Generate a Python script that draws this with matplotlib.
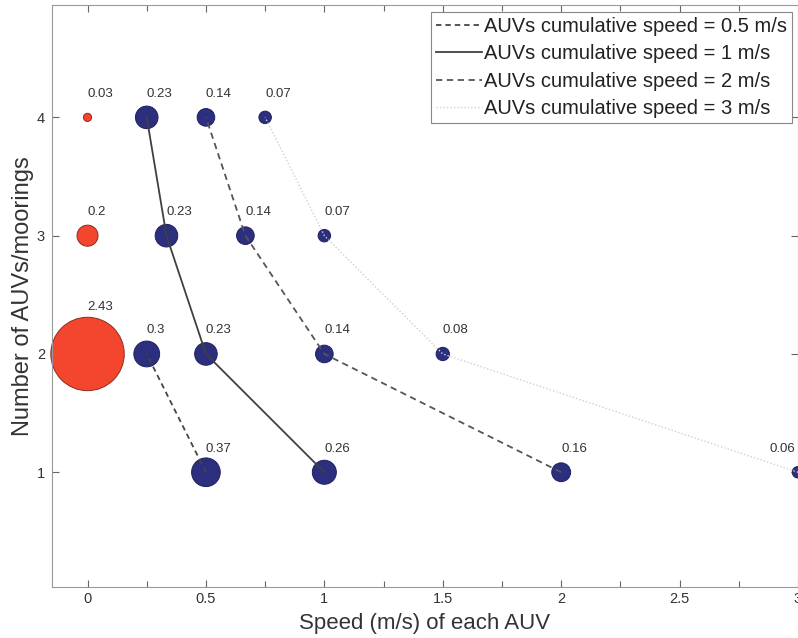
import numpy as np
import matplotlib.pyplot as plt

plt.rcParams['font.family'] = ['Liberation Sans', 'DejaVu Sans']

# single-AUV cost at each speed (red) and cost per AUV for the fleets (blue)
solo_speed = [0, 0, 0]
solo_count = [4, 3, 2]
solo_cost = [0.03, 0.2, 2.43]

fleet_speed = [0.25, 0.5, 0.75,
               1/3, 2/3, 1.0,
               0.25, 0.5, 1.0, 1.5,
               0.5, 1.0, 2.0, 3.0]
fleet_count = [4, 4, 4,
               3, 3, 3,
               2, 2, 2, 2,
               1, 1, 1, 1]
fleet_cost = [0.23, 0.14, 0.07,
              0.23, 0.14, 0.07,
              0.3, 0.23, 0.14, 0.08,
              0.37, 0.26, 0.16, 0.06]

# iso-lines of cumulative speed
cum_labels = ['AUVs cumulative speed = 0.5 m/s', 'AUVs cumulative speed = 1 m/s',
              'AUVs cumulative speed = 2 m/s', 'AUVs cumulative speed = 3 m/s']
cum_x = [[0.5, 0.25],
         [1.0, 0.5, 1/3, 0.25],
         [2.0, 1.0, 2/3, 0.5],
         [3.0, 1.5, 1.0, 0.75]]
cum_y = [[1, 2],
         [1, 2, 3, 4],
         [1, 2, 3, 4],
         [1, 2, 3, 4]]
cum_style = [dict(color='#454545', ls=(0, (3, 2.2)), lw=1.3),
             dict(color='#404040', ls='-', lw=1.3),
             dict(color='#555555', ls=(0, (3.5, 2.5)), lw=1.3),
             dict(color='#d0d0d0', ls=(0, (1, 1.5)), lw=1.0)]

W, H = 798, 638
fig = plt.figure(figsize=(W/100, H/100), dpi=100)
ax = fig.add_axes([52/W, 1 - 587/H, (798 - 52)/W, (587 - 5)/H])

k = 1150
ax.scatter(solo_speed, solo_count, s=np.array(solo_cost)*k, c='#f4452e',
           edgecolors='#8c2d1c', linewidths=0.7, zorder=2, clip_on=False)
ax.scatter(fleet_speed, fleet_count, s=np.array(fleet_cost)*k, c='#2c2f7e',
           edgecolors='#1e2060', linewidths=0.7, zorder=2, clip_on=False)

for xs, ys, lab, st in zip(cum_x, cum_y, cum_labels, cum_style):
    ax.plot(xs, ys, label=lab, zorder=3, **st)

lab_kw = dict(fontsize=9.5, color='#333333', ha='left', va='center')
for x, y, v in zip(solo_speed, solo_count, solo_cost):
    dy = 0.4 if v > 1 else 0.2
    ax.text(x, y + dy, f'{v:g}', **lab_kw)
for x, y, v in zip(fleet_speed, fleet_count, fleet_cost):
    ax.text(min(x, 2.88), y + 0.2, f'{v:g}', **lab_kw)

ax.set_xlim(-0.15, 3.0)
ax.set_ylim(0.03, 4.95)
ax.set_xticks([0, 0.5, 1, 1.5, 2, 2.5, 3])
ax.set_xticklabels(['0', '0.5', '1', '1.5', '2', '2.5', '3'])
ax.set_xticks(np.arange(0, 3.01, 0.25), minor=True)
ax.set_yticks([1, 2, 3, 4])
ax.tick_params(which='both', direction='in', top=True, right=True,
               length=5, width=0.8, color='#666666', labelsize=10.5,
               labelcolor='#333333')
ax.tick_params(which='minor', length=4)
ax.tick_params(axis='y', pad=5)
for sp in ax.spines.values():
    sp.set_color('#999999')
    sp.set_linewidth(0.8)

ax.set_xlabel('Speed (m/s) of each AUV', fontsize=16, color='#333333', labelpad=5)
ax.set_ylabel('Number of AUVs/moorings', fontsize=17, color='#333333', labelpad=2)

leg = ax.legend(loc='upper right', bbox_to_anchor=(792/W, 1 - 12/H),
                bbox_transform=fig.transFigure, borderaxespad=0,
                fontsize=14.5, fancybox=False, framealpha=1,
                edgecolor='#888888', labelspacing=0.42, borderpad=0.25,
                handlelength=2.3, handletextpad=0.1)
leg.get_frame().set_linewidth(0.8)
for t in leg.get_texts():
    t.set_color('#222222')

fig.savefig('out.png', dpi=100)
